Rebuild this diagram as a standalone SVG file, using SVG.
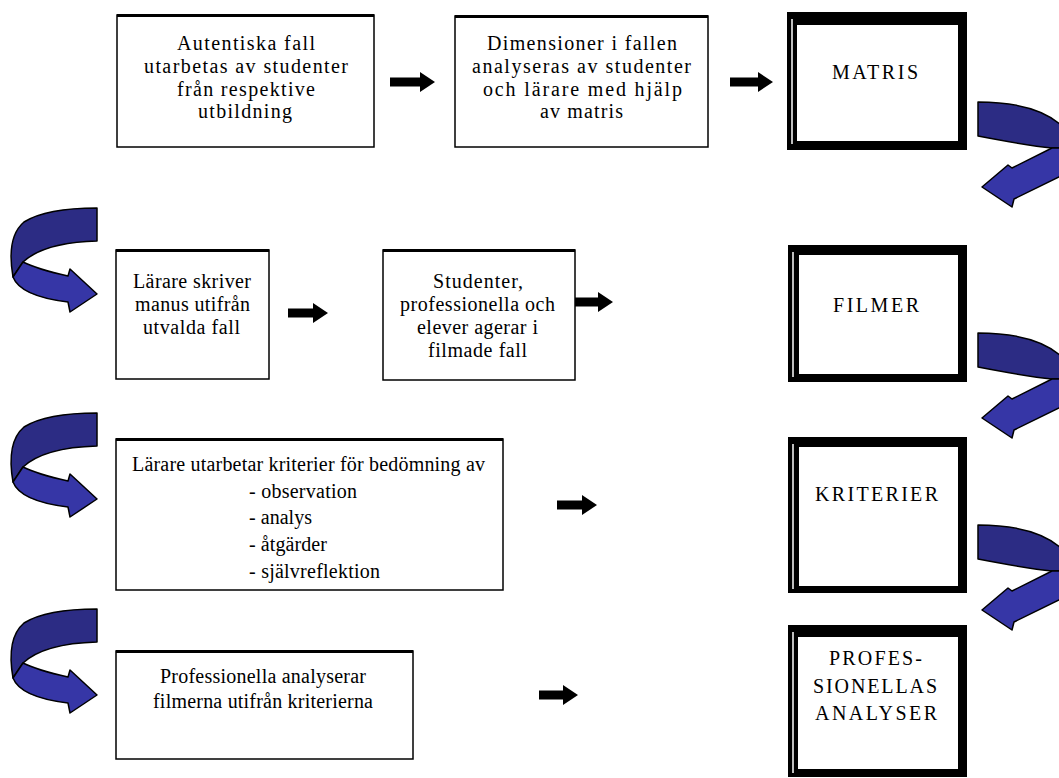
<svg xmlns="http://www.w3.org/2000/svg" width="1059" height="778" viewBox="0 0 1059 778">
<style>
.box{fill:#fff;stroke:#000;stroke-width:1.5}
.topl{stroke:#000;stroke-width:3}
.t{font-family:"Liberation Serif","Times New Roman",serif;font-size:20px;fill:#000}
.c{font-family:"Liberation Serif","Times New Roman",serif;font-size:20px;fill:#000}
.frame{fill:#000}
.inner{fill:#fff}
.wl{stroke:#fff;stroke-width:1.5}
.blk{fill:#000}
.dk{fill:#2c2c84;stroke:#000;stroke-width:1.5;stroke-linejoin:round}
.lt{fill:#3636a6;stroke:#000;stroke-width:1.5;stroke-linejoin:round}
</style>
<rect width="1059" height="778" fill="#fff"/>

<g id="n1">
<rect class="box" x="117" y="15" width="257" height="132"/>
<line class="topl" x1="117" y1="15.5" x2="374" y2="15.5"/>
<text class="t" x="177" y="50" textLength="138" lengthAdjust="spacing">Autentiska fall</text>
<text class="t" x="144" y="73" textLength="204" lengthAdjust="spacing">utarbetas av studenter</text>
<text class="t" x="177" y="96" textLength="138" lengthAdjust="spacing">från respektive</text>
<text class="t" x="198" y="118" textLength="94" lengthAdjust="spacing">utbildning</text>
</g>

<g id="n2">
<rect class="box" x="455" y="16" width="253" height="131"/>
<line class="topl" x1="455" y1="16.5" x2="708" y2="16.5"/>
<text class="t" x="487" y="50" textLength="190" lengthAdjust="spacing">Dimensioner i fallen</text>
<text class="t" x="472" y="73" textLength="219" lengthAdjust="spacing">analyseras av studenter</text>
<text class="t" x="483" y="96" textLength="199" lengthAdjust="spacing">och lärare med hjälp</text>
<text class="t" x="540" y="118" textLength="83" lengthAdjust="spacing">av matris</text>
</g>

<g id="matris">
<rect class="frame" x="787" y="12" width="180" height="138"/>
<rect class="inner" x="797" y="25" width="161" height="116"/>
<line class="wl" x1="792" y1="19" x2="792" y2="144"/>
<text class="c" x="832" y="79" textLength="86" lengthAdjust="spacing">MATRIS</text>
</g>

<g id="n3">
<rect class="box" x="116" y="250" width="153" height="129"/>
<line class="topl" x1="116" y1="250.5" x2="269" y2="250.5"/>
<text class="t" x="133" y="288" textLength="118" lengthAdjust="spacing">Lärare skriver</text>
<text class="t" x="135" y="311" textLength="115" lengthAdjust="spacing">manus utifrån</text>
<text class="t" x="143" y="334" textLength="97" lengthAdjust="spacing">utvalda fall</text>
</g>

<g id="n4">
<rect class="box" x="383" y="250" width="192" height="130"/>
<line class="topl" x1="383" y1="250.5" x2="575" y2="250.5"/>
<text class="t" x="433" y="288" textLength="90" lengthAdjust="spacing">Studenter,</text>
<text class="t" x="400" y="311" textLength="155" lengthAdjust="spacing">professionella och</text>
<text class="t" x="417" y="334" textLength="121" lengthAdjust="spacing">elever agerar i</text>
<text class="t" x="428" y="357" textLength="99" lengthAdjust="spacing">filmade fall</text>
</g>

<g id="filmer">
<rect class="frame" x="788" y="245" width="179" height="137"/>
<rect class="inner" x="799" y="255" width="159" height="119"/>
<line class="wl" x1="793" y1="252" x2="793" y2="377"/>
<text class="c" x="833" y="312" textLength="86" lengthAdjust="spacing">FILMER</text>
</g>

<g id="n5">
<rect class="box" x="116" y="439" width="387" height="151"/>
<line class="topl" x1="116" y1="439.5" x2="503" y2="439.5"/>
<text class="t" x="132" y="471" textLength="353" lengthAdjust="spacing">Lärare utarbetar kriterier för bedömning av</text>
<text class="t" x="249" y="498" textLength="108" lengthAdjust="spacing">- observation</text>
<text class="t" x="249" y="524" textLength="63" lengthAdjust="spacing">- analys</text>
<text class="t" x="249" y="551" textLength="78" lengthAdjust="spacing">- åtgärder</text>
<text class="t" x="249" y="578" textLength="131" lengthAdjust="spacing">- självreflektion</text>
</g>

<g id="kriterier">
<rect class="frame" x="788" y="437" width="179" height="156"/>
<rect class="inner" x="799" y="447" width="159" height="139"/>
<line class="wl" x1="793" y1="444" x2="793" y2="589"/>
<text class="c" x="815" y="501" textLength="123" lengthAdjust="spacing">KRITERIER</text>
</g>

<g id="n6">
<rect class="box" x="116" y="651" width="297" height="108"/>
<line class="topl" x1="116" y1="651.5" x2="413" y2="651.5"/>
<text class="t" x="160" y="683" textLength="206" lengthAdjust="spacing">Professionella analyserar</text>
<text class="t" x="153" y="708" textLength="220" lengthAdjust="spacing">filmerna utifrån kriterierna</text>
</g>

<g id="analyser">
<rect class="frame" x="788" y="625" width="179" height="152"/>
<rect class="inner" x="798" y="637" width="160" height="132"/>
<line class="wl" x1="793" y1="632" x2="793" y2="773"/>
<text class="c" x="829" y="665" textLength="93" lengthAdjust="spacing">PROFES-</text>
<text class="c" x="813" y="693" textLength="124" lengthAdjust="spacing">SIONELLAS</text>
<text class="c" x="815" y="720" textLength="122" lengthAdjust="spacing">ANALYSER</text>
</g>

<g id="connectors">
<path class="blk" d="M390,77.5 H420 V72 L435,82 L420,92 V86.5 H390 Z"/>
<path class="blk" d="M730,77.5 H758 V72 L773,82 L758,92 V86.5 H730 Z"/>
<path class="blk" d="M288,308.5 H313 V303 L328,313 L313,323 V317.5 H288 Z"/>
<path class="blk" d="M575,297.5 H598 V292 L613,302 L598,312 V306.5 H575 Z"/>
<path class="blk" d="M557,500.5 H582 V495 L597,505 L582,515 V509.5 H557 Z"/>
<path class="blk" d="M539,690.5 H563 V685 L578,695 L563,705 V699.5 H539 Z"/>

<g transform="translate(0,102)">
<path class="dk" d="M978,0 C1015,0 1045,8 1062,24 C1070,32 1074,40 1076,46 L1052,46 Q1030,44 978,34 Z"/>
<path class="lt" d="M1076,46 C1076,60 1070,70 1059,75 L1014,97 L1012,105 L982,85 L1008,63 L1012,66 L1052,46 Z"/>
</g>
<g transform="translate(0,333)">
<path class="dk" d="M978,0 C1015,0 1045,8 1062,24 C1070,32 1074,40 1076,46 L1052,46 Q1030,44 978,34 Z"/>
<path class="lt" d="M1076,46 C1076,60 1070,70 1059,75 L1014,97 L1012,105 L982,85 L1008,63 L1012,66 L1052,46 Z"/>
</g>
<g transform="translate(0,525)">
<path class="dk" d="M978,0 C1015,0 1045,8 1062,24 C1070,32 1074,40 1076,46 L1052,46 Q1030,44 978,34 Z"/>
<path class="lt" d="M1076,46 C1076,60 1070,70 1059,75 L1014,97 L1012,105 L982,85 L1008,63 L1012,66 L1052,46 Z"/>
</g>

<g transform="translate(0,208)">
<path class="dk" d="M97,0 L97,33 C60,34 36,42 23,54 L13,69 C9,46 11,25 24,14 C40,4 65,0 97,0 Z"/>
<path class="lt" d="M13,69 C18,82 35,90 68,94 L70,104 L97,86 L70,61 L68,68 C50,64 33,59 23,54 Z"/>
</g>
<g transform="translate(0,413)">
<path class="dk" d="M97,0 L97,33 C60,34 36,42 23,54 L13,69 C9,46 11,25 24,14 C40,4 65,0 97,0 Z"/>
<path class="lt" d="M13,69 C18,82 35,90 68,94 L70,104 L97,86 L70,61 L68,68 C50,64 33,59 23,54 Z"/>
</g>
<g transform="translate(0,609)">
<path class="dk" d="M97,0 L97,33 C60,34 36,42 23,54 L13,69 C9,46 11,25 24,14 C40,4 65,0 97,0 Z"/>
<path class="lt" d="M13,69 C18,82 35,90 68,94 L70,104 L97,86 L70,61 L68,68 C50,64 33,59 23,54 Z"/>
</g>
</g>
</svg>
